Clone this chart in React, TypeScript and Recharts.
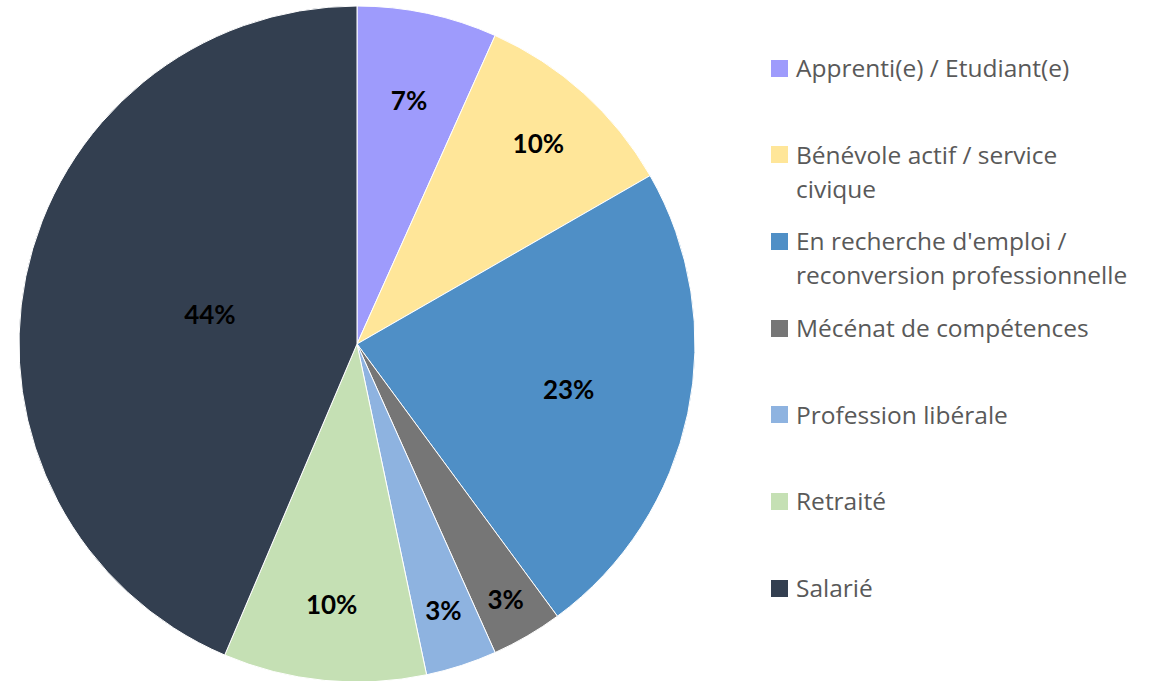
import { PieChart, Pie, Cell, Legend } from 'recharts';

const categories = [
  'Apprenti(e) / Etudiant(e)',
  'Bénévole actif / service civique',
  "En recherche d'emploi / reconversion professionnelle",
  'Mécénat de compétences',
  'Profession libérale',
  'Retraité',
  'Salarié',
];
// legend text as wrapped in the original
const legendLines = [
  ['Apprenti(e) / Etudiant(e)'],
  ['Bénévole actif / service', 'civique'],
  ["En recherche d'emploi /", 'reconversion professionnelle'],
  ['Mécénat de compétences'],
  ['Profession libérale'],
  ['Retraité'],
  ['Salarié'],
];
const shares = [6.7, 10.0, 23.2, 3.4, 3.4, 9.7, 43.6];

const COLORS = ['#9E9BFC', '#FFE699', '#4F8FC6', '#767676', '#8EB3E0', '#C5E0B4', '#333F50'];
// how far from the centre each label sits (Excel "best fit")
const LABEL_RADIUS = [0.737, 0.8, 0.64, 0.873, 0.828, 0.772, 0.444];

const RAD = Math.PI / 180;

const data = categories.map((name, i) => ({ name, value: shares[i] }));

function renderLabel(props: any) {
  const { cx, cy, midAngle, outerRadius, percent, index } = props;
  const r = outerRadius * LABEL_RADIUS[index];
  const x = cx + r * Math.cos(-midAngle * RAD);
  const y = cy + r * Math.sin(-midAngle * RAD);
  return (
    <text
      x={x}
      y={y}
      fill="#000000"
      textAnchor="middle"
      dominantBaseline="central"
      style={{ fontSize: 26, fontWeight: 700, fontFamily: 'Lato, sans-serif' }}
    >
      {`${Math.round(percent * 100)}%`}
    </text>
  );
}

function renderLegend() {
  return (
    <div style={{ fontFamily: '"Open Sans", sans-serif', fontSize: 24.5, color: '#595959' }}>
      {legendLines.map((lines, i) => (
        <div key={i} style={{ height: 86.7, display: 'flex', alignItems: 'flex-start' }}>
          <div
            style={{
              width: 17,
              height: 17,
              background: COLORS[i],
              marginTop: 8.5,
              marginRight: 8,
              flexShrink: 0,
            }}
          />
          <div style={{ lineHeight: '34px', whiteSpace: 'nowrap' }}>
            {lines.map((l, j) => (
              <div key={j}>{l}</div>
            ))}
          </div>
        </div>
      ))}
    </div>
  );
}

export default function App() {
  return (
    <div style={{ position: 'absolute', left: 0, top: 0, width: 1173, height: 681, background: '#ffffff' }}>
      <PieChart width={1173} height={681} margin={{ top: 0, right: 0, bottom: 0, left: 0 }}>
        <Pie
          data={data}
          dataKey="value"
          cx={357}
          cy={344}
          outerRadius={338}
          startAngle={90}
          endAngle={-270}
          stroke="#ffffff"
          strokeWidth={1}
          labelLine={false}
          label={renderLabel}
          isAnimationActive={false}
        >
          {data.map((entry, index) => (
            <Cell key={`cell-${index}`} fill={COLORS[index]} />
          ))}
        </Pie>
        <Legend
          content={renderLegend}
          layout="vertical"
          wrapperStyle={{ left: 771, top: 51, width: 400 }}
        />
      </PieChart>
    </div>
  );
}
